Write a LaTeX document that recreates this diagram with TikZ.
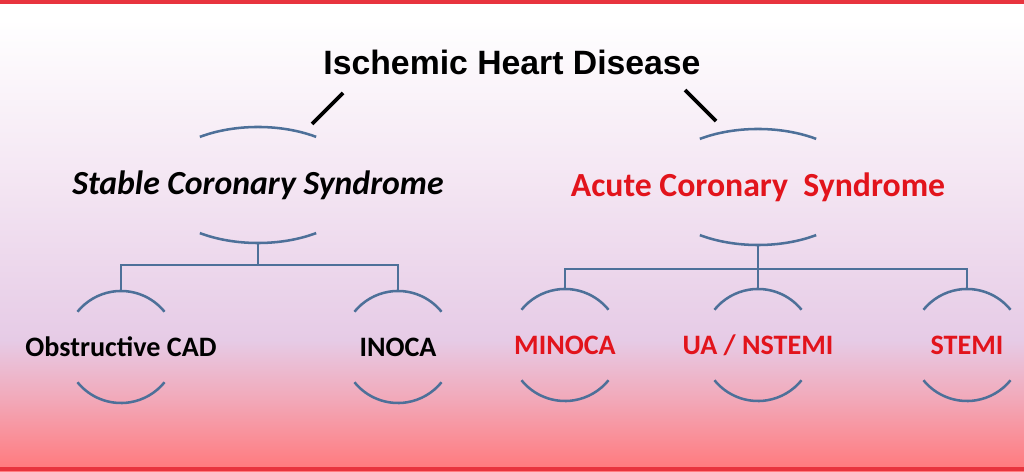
\documentclass[tikz,border=0pt]{standalone}
\usepackage{fontspec}
\setmainfont{Carlito}
\newfontfamily\headfont{Liberation Sans}
\usepackage{tikz}
\definecolor{ihdred}{HTML}{E2141C}
\definecolor{ihdblue}{HTML}{4D7099}
\definecolor{rule}{HTML}{E8343E}
\definecolor{lav}{HTML}{E6CBE6}
\definecolor{lavtop}{HTML}{F4E6F3}
\definecolor{rose}{HTML}{F2A8B8}
\definecolor{redbot}{HTML}{FF7C80}
\pgfdeclareverticalshading{bgshade}{100bp}{color(0bp)=(redbot); color(25.7bp)=(redbot); color(32.6bp)=(rose); color(39bp)=(lav); color(56bp)=(lavtop); color(73bp)=(white); color(100bp)=(white)}

\begin{document}
\begin{tikzpicture}[x=0.025cm,y=0.025cm,title/.style={font=\headfont\bfseries\fontsize{24}{28}\selectfont},hdr/.style={font=\bfseries\fontsize{24}{28}\selectfont},leaf/.style={font=\bfseries\fontsize{20}{24}\selectfont},arcln/.style={draw=ihdblue,line width=1.8pt},stem/.style={line width=2.6pt,color=black},rulel/.style={line width=2.8pt,color=rule}]
\useasboundingbox (0,0) rectangle (1024,472);
\shade[shading=bgshade] (0,0) rectangle (1024,472);
\draw[rulel] (0,470) -- (1024,470);
\draw[rulel] (0,3) -- (1024,3);
% top
\node[title] (ihd) at (512,410) {Ischemic Heart Disease};
\coordinate (ls1) at (343,379);
\coordinate (ls2) at (312,348);
\coordinate (rs1) at (685,382);
\coordinate (rs2) at (716,351);
\draw[stem] (ls1) -- (ls2);
\draw[stem] (rs1) -- (rs2);
% syndromes
\node[hdr,font=\bfseries\itshape\fontsize{24}{28}\selectfont] (scs) at (258,287) {Stable Coronary Syndrome};
\node[hdr,text=ihdred] (acs) at (758,285) {Acute Coronary\ \ Syndrome};
\foreach \n in {scs,acs} {
  \draw[arcln] ([shift={(56:2.6cm and 1.45cm)}]\n.center) arc[start angle=56,end angle=124,x radius=2.6cm,y radius=1.45cm];
  \draw[arcln] ([shift={(236:2.6cm and 1.45cm)}]\n.center) arc[start angle=236,end angle=304,x radius=2.6cm,y radius=1.45cm];
}
% leaves
\node[leaf] (obs) at (121,125) {Obstructive CAD};
\node[leaf] (inoca) at (398,125) {INOCA};
\node[leaf,text=ihdred] (minoca) at (565,127) {MINOCA};
\node[leaf,text=ihdred] (uan) at (758,127) {UA / NSTEMI};
\node[leaf,text=ihdred] (stemi) at (967,127) {STEMI};
\foreach \n in {obs,inoca,minoca,uan,stemi} {
  \draw[arcln] ([shift={(39:1.4cm)}]\n.center) arc[start angle=39,end angle=141,radius=1.4cm];
  \draw[arcln] ([shift={(219:1.4cm)}]\n.center) arc[start angle=219,end angle=321,radius=1.4cm];
}
% tree
\coordinate (scsj) at ([yshift=-2cm]scs.center);
\coordinate (acsj) at ([yshift=-2.05cm]acs.center);
\draw[arcln] ([yshift=-1.45cm]scs.center) -- (scsj);
\draw[arcln] (scsj) -| ([yshift=1.4cm]obs.center);
\draw[arcln] (scsj) -| ([yshift=1.4cm]inoca.center);
\draw[arcln] ([yshift=-1.45cm]acs.center) -- (acsj);
\draw[arcln] (acsj) -| ([yshift=1.4cm]minoca.center);
\draw[arcln] (acsj) -| ([yshift=1.4cm]uan.center);
\draw[arcln] (acsj) -| ([yshift=1.4cm]stemi.center);
\end{tikzpicture}
\end{document}
